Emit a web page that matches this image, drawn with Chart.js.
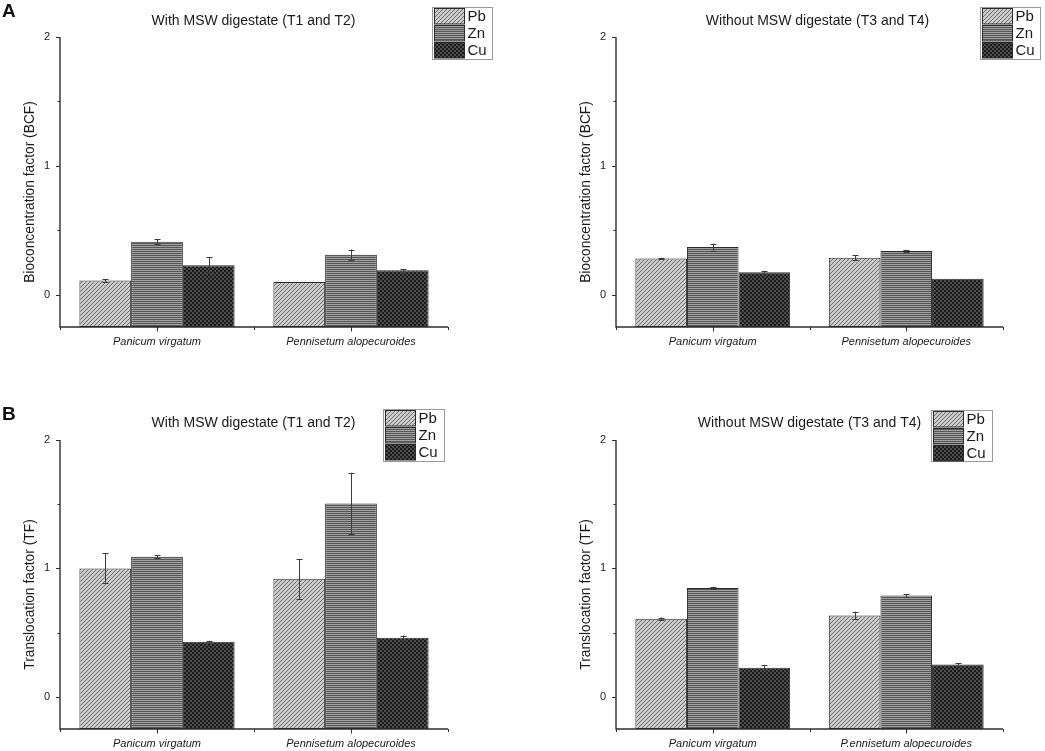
<!DOCTYPE html>
<html><head><meta charset="utf-8">
<script src="https://cdn.jsdelivr.net/npm/chart.js@4.4.1/dist/chart.umd.min.js"></script>
<style>
html,body{margin:0;padding:0;background:#fff;}
#wrap{position:relative;width:1045px;height:751px;overflow:hidden;font-family:"Liberation Sans",Arial,sans-serif;}
canvas{position:absolute;}
.lbl{position:absolute;font-weight:bold;font-size:19px;line-height:19px;color:#111;}
</style></head><body>
<div id="wrap">
<canvas id="c0" width="520" height="370" style="left:0;top:0"></canvas>
<canvas id="c1" width="525" height="370" style="left:520px;top:0"></canvas>
<canvas id="c2" width="520" height="381" style="left:0;top:370px"></canvas>
<canvas id="c3" width="525" height="381" style="left:520px;top:370px"></canvas>
<div class="lbl" style="left:2px;top:1px">A</div>
<div class="lbl" style="left:2px;top:404px">B</div>
</div>
<script>
// ---------- data ----------
const categories = ['Panicum virgatum', 'Pennisetum alopecuroides'];
const categoriesB2 = ['Panicum virgatum', 'P.ennisetum alopecuroides'];
const metals = ['Pb', 'Zn', 'Cu'];
const yTickValues = [0, 1, 2];
const yMinorTickValues = [0.5, 1.5];
const yMin = -0.25, yMax = 2;

// A: Bioconcentration factor, with MSW digestate (T1, T2)
const bcfWithPb = [0.111, 0.100];
const bcfWithZn = [0.412, 0.311];
const bcfWithCu = [0.230, 0.190];
const bcfWithPbErr = [0.008, 0];
const bcfWithZnErr = [0.020, 0.040];
const bcfWithCuErr = [0.063, 0.010];
// A: without MSW digestate (T3, T4)
const bcfWithoutPb = [0.282, 0.288];
const bcfWithoutZn = [0.370, 0.339];
const bcfWithoutCu = [0.174, 0.124];
const bcfWithoutPbErr = [0.006, 0.020];
const bcfWithoutZnErr = [0.027, 0.005];
const bcfWithoutCuErr = [0.013, 0];
// B: Translocation factor, with MSW digestate
const tfWithPb = [1.000, 0.919];
const tfWithZn = [1.091, 1.506];
const tfWithCu = [0.429, 0.460];
const tfWithPbErr = [0.117, 0.156];
const tfWithZnErr = [0.010, 0.239];
const tfWithCuErr = [0.008, 0.017];
// B: without MSW digestate
const tfWithoutPb = [0.608, 0.634];
const tfWithoutZn = [0.847, 0.790];
const tfWithoutCu = [0.226, 0.252];
const tfWithoutPbErr = [0.010, 0.030];
const tfWithoutZnErr = [0.010, 0.010];
const tfWithoutCuErr = [0.020, 0.010];

const titleWith = 'With MSW digestate (T1 and T2)';
const titleWithout = 'Without MSW digestate (T3 and T4)';
const yTitleA = 'Bioconcentration factor (BCF)';
const yTitleB = 'Translocation factor (TF)';

// ---------- patterns ----------
function mkPattern(w, h, draw) {
  const c = document.createElement('canvas'); c.width = w; c.height = h;
  const g = c.getContext('2d'); draw(g, w, h);
  return g.createPattern(c, 'repeat');
}
const patPb = mkPattern(4, 4, (g, w, h) => {
  g.fillStyle = '#cbcbcb'; g.fillRect(0, 0, w, h);
  g.strokeStyle = '#6e6e6e'; g.lineWidth = 1;
  g.beginPath();
  g.moveTo(-1, 5); g.lineTo(5, -1);
  g.moveTo(-1, 1); g.lineTo(1, -1);
  g.moveTo(3, 5); g.lineTo(5, 3);
  g.stroke();
});
const patZn = mkPattern(2, 2, (g, w, h) => {
  g.fillStyle = '#575757'; g.fillRect(0, 0, w, h);
  g.fillStyle = '#a0a0a0'; g.fillRect(0, 0, w, 1);
});
const patCu = mkPattern(4, 4, (g, w, h) => {
  g.fillStyle = '#1d1d1d'; g.fillRect(0, 0, w, h);
  g.fillStyle = '#4c4c4c'; g.fillRect(0, 0, 2, 2); g.fillRect(2, 2, 2, 2);
});
const patterns = [patPb, patZn, patCu];

// ---------- plugin: axes, ticks, error bars, titles, legend ----------
const FONT = '"Liberation Sans", Arial, sans-serif';
const decor = {
  id: 'decor',
  afterDatasetsDraw(chart) {
    const ctx = chart.ctx, y = chart.scales.y;
    ctx.save();
    ctx.strokeStyle = '#3c3c3c'; ctx.lineWidth = 1;
    chart.data.datasets.forEach((ds, i) => {
      chart.getDatasetMeta(i).data.forEach((bar, j) => {
        const e = ds.errors[j]; if (!e) return;
        const v = ds.data[j];
        const yt = y.getPixelForValue(v + e), yb = y.getPixelForValue(v - e);
        const cx = Math.round(bar.x) + 0.5;
        ctx.beginPath();
        ctx.moveTo(cx, yt); ctx.lineTo(cx, yb);
        ctx.moveTo(cx - 3, Math.round(yt) + 0.5); ctx.lineTo(cx + 3, Math.round(yt) + 0.5);
        ctx.moveTo(cx - 3, Math.round(yb) + 0.5); ctx.lineTo(cx + 3, Math.round(yb) + 0.5);
        ctx.stroke();
      });
    });
    ctx.restore();
  },
  afterDraw(chart, args, o) {
    const ctx = chart.ctx, ca = chart.chartArea, x = chart.scales.x, y = chart.scales.y;
    ctx.save();
    // axis lines
    ctx.strokeStyle = '#2e2e2e'; ctx.lineWidth = 1.4;
    const yTop = y.getPixelForValue(yMax), yBot = y.getPixelForValue(yMin);
    ctx.beginPath();
    ctx.moveTo(ca.left, yTop); ctx.lineTo(ca.left, yBot + 0.7);
    ctx.moveTo(ca.left - 0.7, yBot); ctx.lineTo(ca.right, yBot);
    ctx.stroke();
    ctx.lineWidth = 1;
    // y ticks
    ctx.beginPath();
    yTickValues.forEach(v => { const p = Math.round(y.getPixelForValue(v)) + 0.5; ctx.moveTo(ca.left - 4, p); ctx.lineTo(ca.left, p); });
    yMinorTickValues.forEach(v => { const p = Math.round(y.getPixelForValue(v)) + 0.5; ctx.moveTo(ca.left - 2.5, p); ctx.lineTo(ca.left, p); });
    // x ticks: category centres (major), edges and boundary (minor)
    const n = chart.data.labels.length;
    for (let i = 0; i < n; i++) { const p = Math.round(x.getPixelForValue(i)) + 0.5; ctx.moveTo(p, yBot); ctx.lineTo(p, yBot + 4.5); }
    for (let i = 0; i <= n; i++) { const p = Math.round(x.getPixelForValue(i - 0.5)) + 0.5; ctx.moveTo(p, yBot); ctx.lineTo(p, yBot + 3); }
    ctx.stroke();
    // title
    ctx.fillStyle = '#1a1a1a';
    ctx.font = '14px ' + FONT; ctx.textAlign = 'center'; ctx.textBaseline = 'middle';
    ctx.fillText(o.title, o.titleX, o.titleY);
    // y axis title
    ctx.save();
    ctx.translate(ca.left - 29.5, (ca.top + ca.bottom) / 2 + 10);
    ctx.rotate(-Math.PI / 2);
    ctx.font = '13.8px ' + FONT;
    ctx.fillText(o.yTitle, 0, 0);
    ctx.restore();
    // legend
    const L = o.legend;
    ctx.strokeStyle = '#9a9a9a'; ctx.lineWidth = 1;
    ctx.strokeRect(L.x + 0.5, L.y + 0.5, L.w, L.h);
    ctx.font = '15px ' + FONT; ctx.textAlign = 'left'; ctx.textBaseline = 'middle';
    chart.data.datasets.forEach((ds, i) => {
      const sy = L.y + 1.5 + i * 17;
      ctx.fillStyle = ds.backgroundColor;
      ctx.fillRect(L.x + 2.5, sy, 30, 15.5);
      ctx.strokeStyle = '#2b2b2b';
      ctx.strokeRect(L.x + 2.5, sy, 30, 15.5);
      ctx.fillStyle = '#1a1a1a';
      ctx.fillText(ds.label, L.x + 35.5, sy + 8.5);
    });
    ctx.restore();
  }
};

function makeChart(id, area, labels, values, errors, o) {
  const cv = document.getElementById(id);
  const W = cv.width, H = cv.height, XH = 20;
  new Chart(cv, {
    type: 'bar',
    data: {
      labels: labels,
      datasets: metals.map((m, i) => ({
        label: m, data: values[i], errors: errors[i],
        backgroundColor: patterns[i], borderColor: '#2b2b2b', borderWidth: 1,
        borderSkipped: false, base: yMin,
        categoryPercentage: 0.8, barPercentage: 1.0
      }))
    },
    options: {
      responsive: false, animation: false, devicePixelRatio: 1,
      layout: { padding: { left: 0, top: area.t, right: W - area.r, bottom: H - area.b - XH } },
      plugins: { legend: { display: false }, tooltip: { enabled: false }, decor: o },
      scales: {
        x: {
          type: 'category', offset: true,
          grid: { display: false, drawTicks: false }, border: { display: false },
          ticks: { color: '#1a1a1a', padding: 8, font: { family: FONT, size: 11, style: 'italic' }, maxRotation: 0, autoSkip: false },
          afterFit(s) { s.height = XH; }
        },
        y: {
          min: yMin, max: yMax,
          grid: { display: false, drawTicks: false }, border: { display: false },
          afterBuildTicks(s) { s.ticks = yTickValues.map(v => ({ value: v })); },
          ticks: { color: '#1a1a1a', padding: 10, font: { family: FONT, size: 11 }, callback: v => String(v) },
          afterFit(s) { s.width = area.l; }
        }
      }
    },
    plugins: [decor]
  });
}

makeChart('c0', { l: 60, t: 37, r: 448, b: 327 }, categories,
  [bcfWithPb, bcfWithZn, bcfWithCu], [bcfWithPbErr, bcfWithZnErr, bcfWithCuErr],
  { title: titleWith, titleX: 253.5, titleY: 21, yTitle: yTitleA, legend: { x: 432, y: 7, w: 60, h: 52 } });
makeChart('c1', { l: 96, t: 37, r: 483, b: 327 }, categories,
  [bcfWithoutPb, bcfWithoutZn, bcfWithoutCu], [bcfWithoutPbErr, bcfWithoutZnErr, bcfWithoutCuErr],
  { title: titleWithout, titleX: 297.5, titleY: 21, yTitle: yTitleA, legend: { x: 460, y: 7, w: 60, h: 52 } });
makeChart('c2', { l: 60, t: 70, r: 448, b: 359 }, categories,
  [tfWithPb, tfWithZn, tfWithCu], [tfWithPbErr, tfWithZnErr, tfWithCuErr],
  { title: titleWith, titleX: 253.5, titleY: 53.5, yTitle: yTitleB, legend: { x: 383, y: 39, w: 61, h: 52 } });
makeChart('c3', { l: 96, t: 70, r: 483, b: 359 }, categoriesB2,
  [tfWithoutPb, tfWithoutZn, tfWithoutCu], [tfWithoutPbErr, tfWithoutZnErr, tfWithoutCuErr],
  { title: titleWithout, titleX: 289.5, titleY: 53.5, yTitle: yTitleB, legend: { x: 411, y: 40, w: 61, h: 51 } });
</script>
</body></html>
